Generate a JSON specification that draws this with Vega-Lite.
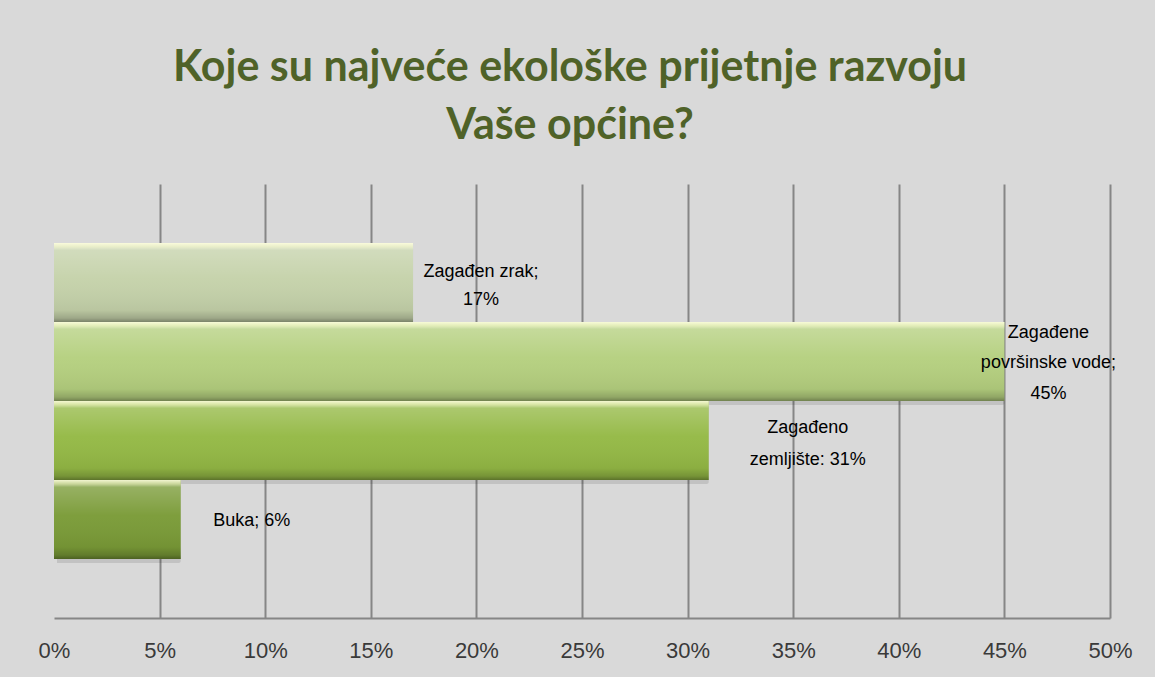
{
  "$schema": "https://vega.github.io/schema/vega-lite/v6.json",
  "width": 1056,
  "height": 434,
  "autosize": {"type": "none"},
  "padding": {"left": 54, "top": 184, "right": 45, "bottom": 59},
  "background": "#d9d9d9",
  "title": {
    "text": ["Koje su najveće ekološke prijetnje razvoju", "Vaše općine?"],
    "font": "Lato",
    "fontWeight": "bold",
    "fontSize": 43,
    "color": "#4f6228",
    "anchor": "middle",
    "lineHeight": 58,
    "dx": -12,
    "offset": 36
  },
  "config": {
    "view": {"stroke": null},
    "axis": {"labelFont": "Liberation Sans"},
    "text": {"font": "Liberation Sans"}
  },
  "data": {
    "values": [
      {"kategorija": "Zagađen zrak", "udio": 0.17, "oznaka": "Zagađen zrak;\n17%"},
      {"kategorija": "Zagađene površinske vode", "udio": 0.45, "oznaka": "Zagađene\npovršinske vode;\n45%"},
      {"kategorija": "Zagađeno zemljište", "udio": 0.31, "oznaka": "Zagađeno\nzemljište: 31%"},
      {"kategorija": "Buka", "udio": 0.06, "oznaka": "Buka; 6%"}
    ]
  },
  "encoding": {
    "y": {
      "field": "kategorija",
      "type": "nominal",
      "sort": null,
      "axis": null,
      "scale": {"paddingInner": 0, "paddingOuter": 0.747}
    },
    "x": {
      "field": "udio",
      "type": "quantitative",
      "scale": {"domain": [0, 0.5], "nice": false},
      "axis": {
        "title": null,
        "values": [0, 0.05, 0.1, 0.15, 0.2, 0.25, 0.3, 0.35, 0.4, 0.45, 0.5],
        "format": ".0%",
        "ticks": false,
        "labelFlush": false,
        "domain": true,
        "domainColor": "#868686",
        "domainWidth": 2,
        "grid": true,
        "gridColor": {"condition": {"test": "datum.value === 0", "value": "transparent"}, "value": "#868686"},
        "gridWidth": 2,
        "gridOpacity": 1,
        "labelFontSize": 22,
        "labelColor": "#3a3a3a",
        "labelPadding": 22
      }
    }
  },
  "layer": [
    {
      "mark": {"type": "bar", "color": "#000000", "opacity": 0.1, "xOffset": 3, "yOffset": 4, "cornerRadius": 2},
      "encoding": {}
    },
    {
      "mark": {"type": "bar", "stroke": null},
      "encoding": {
        "color": {
          "field": "kategorija",
          "type": "nominal",
          "sort": null,
          "legend": null,
          "scale": {
            "domain": ["Zagađen zrak", "Zagađene površinske vode", "Zagađeno zemljište", "Buka"],
            "range": ["#c5d2aa", "#b5d07f", "#94b945", "#7a9b37"]
          }
        }
      }
    },
    {
      "mark": {
        "type": "bar",
        "color": {
          "gradient": "linear",
          "x1": 0, "y1": 0, "x2": 0, "y2": 1,
          "stops": [
            {"offset": 0, "color": "rgba(255,255,225,0.9)"},
            {"offset": 0.05, "color": "rgba(255,255,220,0.6)"},
            {"offset": 0.09, "color": "rgba(255,255,255,0.22)"},
            {"offset": 0.45, "color": "rgba(255,255,255,0.03)"},
            {"offset": 0.85, "color": "rgba(0,0,0,0.06)"},
            {"offset": 0.95, "color": "rgba(0,0,0,0.2)"},
            {"offset": 1, "color": "rgba(0,0,0,0.38)"}
          ]
        }
      }
    },
    {
      "transform": [{"filter": "datum.kategorija === 'Zagađen zrak'"}],
      "mark": {"type": "text", "align": "center", "baseline": "middle", "dx": 68, "dy": -11, "fontSize": 18, "lineHeight": 28, "lineBreak": "\n", "color": "#000000"},
      "encoding": {"text": {"field": "oznaka"}}
    },
    {
      "transform": [{"filter": "datum.kategorija === 'Zagađene površinske vode'"}],
      "mark": {"type": "text", "align": "center", "baseline": "middle", "dx": 44, "dy": -29, "fontSize": 18, "lineHeight": 30.5, "lineBreak": "\n", "color": "#000000"},
      "encoding": {"text": {"field": "oznaka"}}
    },
    {
      "transform": [{"filter": "datum.kategorija === 'Zagađeno zemljište'"}],
      "mark": {"type": "text", "align": "center", "baseline": "middle", "dx": 99, "dy": -12, "fontSize": 18, "lineHeight": 32, "lineBreak": "\n", "color": "#000000"},
      "encoding": {"text": {"field": "oznaka"}}
    },
    {
      "transform": [{"filter": "datum.kategorija === 'Buka'"}],
      "mark": {"type": "text", "align": "center", "baseline": "middle", "dx": 71, "dy": 2, "fontSize": 18, "lineBreak": "\n", "color": "#000000"},
      "encoding": {"text": {"field": "oznaka"}}
    }
  ]
}
